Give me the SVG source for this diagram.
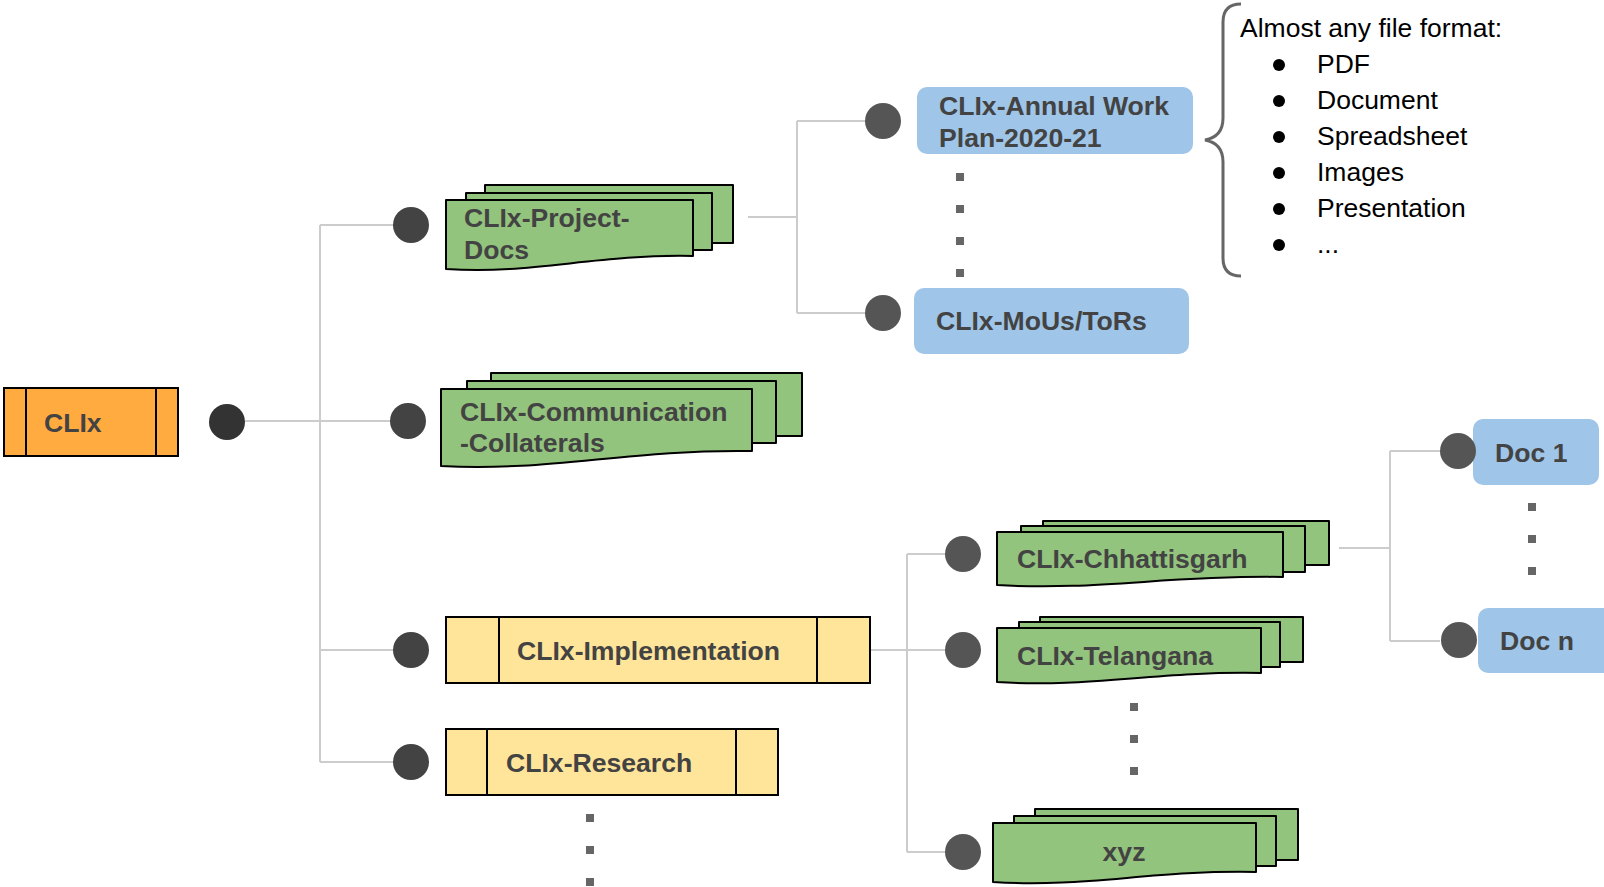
<svg xmlns="http://www.w3.org/2000/svg" width="1604" height="887" viewBox="0 0 1604 887">
<style>
.lbl{font-family:"Liberation Sans",Arial,sans-serif;font-size:26.6px;font-weight:bold;fill:#434343}
.txt{font-family:"Liberation Sans",Arial,sans-serif;font-size:26.5px;fill:#000}
.grn{fill:#93c47d;stroke:#000;stroke-width:2;stroke-linejoin:round}
.yel{fill:#ffe599;stroke:#000;stroke-width:2}
.org{fill:#ffab40;stroke:#000;stroke-width:2}
.blu{fill:#9fc5e8}
.dot{fill:#434343}
.dot2{fill:#555}
.con{stroke:#cccccc;stroke-width:2;fill:none}
.sq{fill:#666}
</style>
<rect width="1604" height="887" fill="#fff"/>
<g id="connectors">
<path class="con" d="M245,421 H395"/>
<path class="con" d="M320,225 V762"/>
<path class="con" d="M320,225 H395 M320,650 H395 M320,762 H395"/>
<path class="con" d="M748,217 H797 M797,121 V313 M797,121 H865 M797,313 H865"/>
<path class="con" d="M870,650 H907 M907,554 V852 M907,554 H945 M907,650 H945 M907,852 H945"/>
<path class="con" d="M1339,548 H1390 M1390,451 V641 M1390,451 H1440 M1390,641 H1440"/>
</g>
<g id="clix">
<rect class="org" x="4" y="388" width="174" height="68"/>
<path d="M26,388 V456 M156,388 V456" stroke="#000" stroke-width="2"/>
<text class="lbl" x="44" y="432">CLIx</text>
<circle cx="227" cy="422" r="18" fill="#333"/>
</g>
<g id="project-docs">
<circle class="dot" cx="411" cy="225" r="18"/>
<rect class="grn" x="485" y="185" width="248" height="58"/>
<rect class="grn" x="466" y="193" width="246" height="57"/>
<path class="grn" d="M446,200 H693 V256 C594,254 532,275 446,269 Z"/>
<text class="lbl" x="464" y="227">CLIx-Project-</text>
<text class="lbl" x="464" y="259">Docs</text>
</g>
<g id="communication">
<circle class="dot" cx="408" cy="421" r="18"/>
<rect class="grn" x="491" y="373" width="311" height="63"/>
<rect class="grn" x="467" y="381" width="309" height="62"/>
<path class="grn" d="M441,389 H752 V451 C628,449 550,472 441,466 Z"/>
<text class="lbl" x="460" y="421">CLIx-Communication</text>
<text class="lbl" x="460" y="452">-Collaterals</text>
</g>
<g id="implementation">
<circle class="dot" cx="411" cy="650" r="18"/>
<rect class="yel" x="446" y="617" width="424" height="66"/>
<path d="M499,617 V683 M817,617 V683" stroke="#000" stroke-width="2"/>
<text class="lbl" x="517" y="660">CLIx-Implementation</text>
</g>
<g id="research">
<circle class="dot" cx="411" cy="762" r="18"/>
<rect class="yel" x="446" y="729" width="332" height="66"/>
<path d="M487,729 V795 M736,729 V795" stroke="#000" stroke-width="2"/>
<text class="lbl" x="506" y="772">CLIx-Research</text>
</g>
<g id="research-more">
<rect class="sq" x="586" y="814" width="8" height="8"/>
<rect class="sq" x="586" y="846" width="8" height="8"/>
<rect class="sq" x="586" y="878" width="8" height="8"/>
</g>
<g id="annual-plan">
<circle class="dot2" cx="883" cy="121" r="18"/>
<rect class="blu" x="917" y="87" width="276" height="67" rx="10"/>
<text class="lbl" x="939" y="115">CLIx-Annual Work</text>
<text class="lbl" x="939" y="147">Plan-2020-21</text>
</g>
<g id="docs-more">
<rect class="sq" x="956" y="173" width="8" height="8"/>
<rect class="sq" x="956" y="205" width="8" height="8"/>
<rect class="sq" x="956" y="237" width="8" height="8"/>
<rect class="sq" x="956" y="269" width="8" height="8"/>
</g>
<g id="mous">
<circle class="dot2" cx="883" cy="313" r="18"/>
<rect class="blu" x="914" y="288" width="275" height="66" rx="10"/>
<text class="lbl" x="936" y="330">CLIx-MoUs/ToRs</text>
</g>
<g id="formats">
<path d="M1241,4 C1229,4 1223,10 1223,22 V118 C1223,131 1216,138 1205,140 C1216,142 1223,149 1223,162 V258 C1223,270 1229,276 1241,276" fill="none" stroke="#666" stroke-width="3"/>
<text class="txt" x="1240" y="37">Almost any file format:</text>
<circle cx="1279" cy="65" r="6"/><text class="txt" x="1317" y="73">PDF</text>
<circle cx="1279" cy="101" r="6"/><text class="txt" x="1317" y="109">Document</text>
<circle cx="1279" cy="137" r="6"/><text class="txt" x="1317" y="145">Spreadsheet</text>
<circle cx="1279" cy="173" r="6"/><text class="txt" x="1317" y="181">Images</text>
<circle cx="1279" cy="209" r="6"/><text class="txt" x="1317" y="217">Presentation</text>
<circle cx="1279" cy="245" r="6"/><text class="txt" x="1317" y="253">...</text>
</g>
<g id="chhattisgarh">
<circle class="dot2" cx="963" cy="554" r="18"/>
<rect class="grn" x="1043" y="521" width="286" height="44"/>
<rect class="grn" x="1021" y="526" width="284" height="46"/>
<path class="grn" d="M997,532 H1283 V577 C1169,575 1097,591 997,585 Z"/>
<text class="lbl" x="1017" y="568">CLIx-Chhattisgarh</text>
</g>
<g id="telangana">
<circle class="dot2" cx="963" cy="650" r="18"/>
<rect class="grn" x="1040" y="617" width="263" height="45"/>
<rect class="grn" x="1019" y="622" width="261" height="45"/>
<path class="grn" d="M997,628 H1261 V673 C1155,671 1089,688 997,682 Z"/>
<text class="lbl" x="1017" y="665">CLIx-Telangana</text>
</g>
<g id="states-more">
<rect class="sq" x="1130" y="703" width="8" height="8"/>
<rect class="sq" x="1130" y="735" width="8" height="8"/>
<rect class="sq" x="1130" y="767" width="8" height="8"/>
</g>
<g id="xyz">
<circle class="dot2" cx="963" cy="852" r="18"/>
<rect class="grn" x="1035" y="809" width="263" height="51"/>
<rect class="grn" x="1014" y="816" width="262" height="50"/>
<path class="grn" d="M993,823 H1256 V872 C1151,870 1085,888 993,882 Z"/>
<text class="lbl" x="1124" y="861" text-anchor="middle">xyz</text>
</g>
<g id="doc1">
<rect class="blu" x="1473" y="419" width="126" height="66" rx="10"/>
<circle class="dot2" cx="1458" cy="451" r="18"/>
<text class="lbl" x="1495" y="462">Doc 1</text>
</g>
<g id="doc-more">
<rect class="sq" x="1528" y="503" width="8" height="8"/>
<rect class="sq" x="1528" y="535" width="8" height="8"/>
<rect class="sq" x="1528" y="567" width="8" height="8"/>
</g>
<g id="docn">
<rect class="blu" x="1478" y="608" width="140" height="65" rx="10"/>
<circle class="dot2" cx="1459" cy="640" r="18"/>
<text class="lbl" x="1500" y="650">Doc n</text>
</g>
</svg>
